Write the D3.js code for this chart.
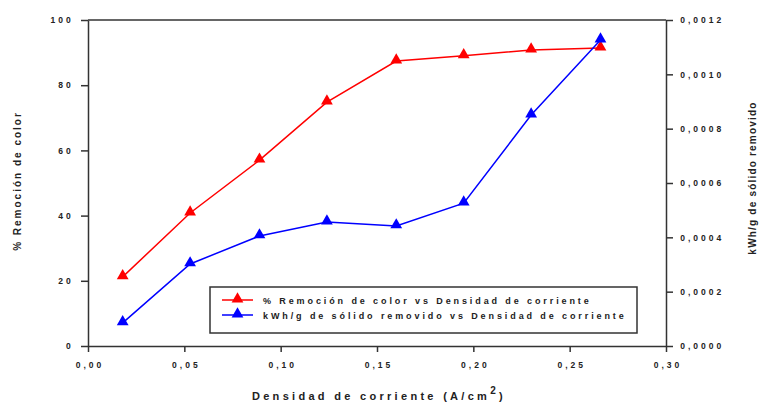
<!DOCTYPE html>
<html>
<head>
<meta charset="utf-8">
<script src="https://cdnjs.cloudflare.com/ajax/libs/d3/7.8.5/d3.min.js"></script>
<style>
body { margin: 0; background: #fff; }
text { font-family: "Liberation Sans", Arial, sans-serif; font-weight: bold; fill: #222; }
</style>
</head>
<body>
<main></main>
<script>
// data
var density = [0.018, 0.053, 0.089, 0.124, 0.160, 0.195, 0.230, 0.266]
var removal = [21.2, 40.8, 57.0, 74.8, 87.4, 89.0, 90.8, 91.4]
var energy = [0.000085, 0.000302, 0.000405, 0.000456, 0.000442, 0.000526, 0.00085, 0.001126]
var xTicks = [0, 0.05, 0.10, 0.15, 0.20, 0.25, 0.30]
var yLeftTicks = [0, 20, 40, 60, 80, 100]
var yRightTicks = [0, 0.0002, 0.0004, 0.0006, 0.0008, 0.0010, 0.0012]
var legendLabels = ['% Remoción de color vs Densidad de corriente', 'kWh/g de sólido removido vs Densidad de corriente']

var W = 761, H = 406
var margin = { top: 20, right: 95, bottom: 60, left: 88 },
    width = W - margin.left - margin.right,
    height = H - margin.top - margin.bottom

var comma = d => d.replace('.', ',')

var x = d3.scaleLinear().domain([0, 0.30]).range([0, width])
var yL = d3.scaleLinear().domain([0, 100]).range([height, 0])
var yR = d3.scaleLinear().domain([0, 0.0012]).range([height, 0])

var svg = d3.select('main').append('svg')
    .attr('width', W)
    .attr('height', H)
    .append('g')
    .attr('transform', `translate(${margin.left}, ${margin.top})`)

// top frame line
svg.append('line')
    .attr('x1', 0).attr('x2', width)
    .attr('y1', 0).attr('y2', 0)
    .attr('stroke', '#333').attr('stroke-width', 1.5)

function styleAxis (g) {
    g.selectAll('path').attr('stroke', '#333').attr('stroke-width', 1.5)
    g.selectAll('line').attr('stroke', '#333').attr('stroke-width', 1.5)
    g.selectAll('text').style('font-size', '8.5px').style('letter-spacing', '3px').attr('fill', '#222')
}

svg.append('g')
    .attr('transform', `translate(0, ${height})`)
    .call(d3.axisBottom(x).tickValues(xTicks).tickSize(6).tickSizeOuter(0)
        .tickFormat(d => comma(d3.format('.2f')(d))))
    .call(styleAxis)
    .selectAll('text').attr('dy', '1.5em').attr('dx', '1.5px')

svg.append('g')
    .call(d3.axisLeft(yL).tickValues(yLeftTicks).tickSize(7).tickSizeOuter(0))
    .call(styleAxis)
    .selectAll('text').attr('dx', '-0.5em')

svg.append('g')
    .attr('transform', `translate(${width}, 0)`)
    .call(d3.axisRight(yR).tickValues(yRightTicks).tickSize(7).tickSizeOuter(0)
        .tickFormat(d => comma(d3.format('.4f')(d))))
    .call(styleAxis)
    .selectAll('text').attr('dx', '0.5em')

// axis titles
svg.append('text')
    .attr('transform', `translate(${width / 2 + 2}, ${height + 54})`)
    .style('text-anchor', 'middle')
    .style('font-size', '11px')
    .style('letter-spacing', '3.3px')
    .text('Densidad de corriente (A/cm')
    .append('tspan').attr('dy', -6).style('font-size', '10px').text('2')
    .append('tspan').attr('dy', 6).style('font-size', '11px').text(')')

svg.append('text')
    .attr('transform', `translate(${-67}, ${height / 2 - 2}) rotate(-90)`)
    .style('text-anchor', 'middle')
    .style('font-size', '10px')
    .style('letter-spacing', '2px')
    .text('% Remoción de color')

svg.append('text')
    .attr('transform', `translate(${width + 90}, ${height / 2 - 5}) rotate(-90)`)
    .style('text-anchor', 'middle')
    .style('font-size', '10px')
    .style('letter-spacing', '1.2px')
    .text('kWh/g de sólido removido')

var tri = d3.symbol().type(d3.symbolTriangle).size(60)

function drawSeries (vals, yScale, color) {
    var pts = density.map((d, i) => [d, vals[i]])
    svg.append('path')
        .datum(pts)
        .attr('fill', 'none')
        .attr('stroke', color)
        .attr('stroke-width', 1.5)
        .attr('d', d3.line().x(d => x(d[0])).y(d => yScale(d[1])))
    svg.append('g').selectAll('path')
        .data(pts).enter().append('path')
        .attr('d', tri)
        .attr('fill', color)
        .attr('transform', d => `translate(${x(d[0])}, ${yScale(d[1]) - 1})`)
}

drawSeries(removal, yL, '#ff0000')
drawSeries(energy, yR, '#0000ff')

// legend
var lg = svg.append('g').attr('transform', `translate(${122}, ${267})`)
lg.append('rect')
    .attr('width', 427).attr('height', 46)
    .attr('fill', '#fff').attr('stroke', '#333').attr('stroke-width', 1.5)
var colors = ['#ff0000', '#0000ff']
legendLabels.forEach((t, i) => {
    var yy = 13 + i * 15
    lg.append('line').attr('x1', 12).attr('x2', 43).attr('y1', yy).attr('y2', yy)
        .attr('stroke', colors[i]).attr('stroke-width', 1.5)
    lg.append('path').attr('d', tri).attr('fill', colors[i])
        .attr('transform', `translate(27.5, ${yy - 1})`)
    lg.append('text').attr('x', 53).attr('y', yy + 4)
        .style('font-size', '9px')
        .style('letter-spacing', '2.9px')
        .text(t)
})
</script>
</body>
</html>
